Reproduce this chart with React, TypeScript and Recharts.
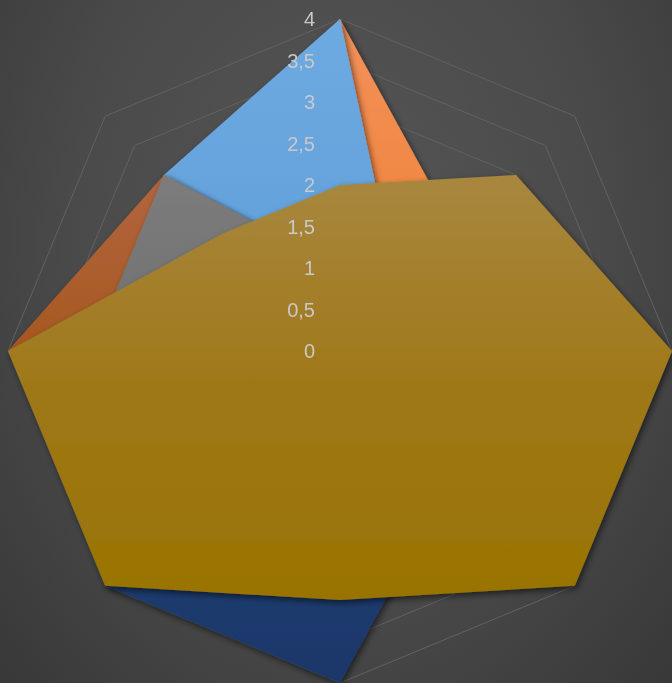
import React from 'react';
import { RadarChart, Radar, PolarGrid, PolarAngleAxis, PolarRadiusAxis } from 'recharts';

// Eight unlabeled spokes, clockwise from the top
const categories = ['K1', 'K2', 'K3', 'K4', 'K5', 'K6', 'K7', 'K8'];

// Series values, one per spoke
const serie1 = [4, 1, 1, 1, 1, 1, 2, 3];
const serie2 = [4, 2, 2, 1, 1, 1, 1, 2];
const serie7 = [1, 1, 1, 2, 4, 4, 2, 1];
const serie8 = [1, 1, 1, 1, 1, 2, 4, 3];
const serie9 = [1, 1.5, 2, 2, 1.5, 2, 3, 3];
const serie10 = [2, 3, 4, 4, 3, 4, 4, 2];

const radiusTicks = [0, 0.5, 1, 1.5, 2, 2.5, 3, 3.5, 4];

const data = categories.map((c, i) => ({
  cat: c,
  s1: serie1[i],
  s2: serie2[i],
  s7: serie7[i],
  s8: serie8[i],
  s9: serie9[i],
  s10: serie10[i],
}));

const fmt = (v: number) => String(v).replace('.', ',');

const RadiusTick = (props: any) => {
  const { x, y, payload } = props;
  return (
    <text
      x={x - 25}
      y={y + 7}
      textAnchor="end"
      fill="#C9C9C9"
      fontSize={20}
      fontFamily="'Liberation Sans', Arial, sans-serif"
    >
      {fmt(payload.value)}
    </text>
  );
};

const grad = (id: string, top: string, mid: string, bottom: string) => (
  <linearGradient id={id} x1="0" y1="0" x2="0" y2="1">
    <stop offset="0%" stopColor={top} />
    <stop offset="50%" stopColor={mid} />
    <stop offset="100%" stopColor={bottom} />
  </linearGradient>
);

export default function App() {
  return (
    <div
      style={{
        position: 'fixed',
        left: 0,
        top: 0,
        width: 672,
        height: 683,
        overflow: 'hidden',
        background: 'radial-gradient(ellipse at 50% 35%, #565656 0%, #4a4a4a 55%, #383838 100%)',
      }}
    >
      <RadarChart
        width={672}
        height={683}
        cx={340}
        cy={351}
        outerRadius={332}
        data={data}
        margin={{ top: 0, right: 0, bottom: 0, left: 0 }}
      >
        <defs>
          {grad('g1', '#6EAAE2', '#64A2DB', '#5B9BD5')}
          {grad('g2', '#F3905A', '#F0863F', '#ED7D31')}
          {grad('g7', '#24427A', '#203D72', '#1D386A')}
          {grad('g8', '#B3653F', '#A85A25', '#A0500F')}
          {grad('g9', '#7C7C7C', '#727272', '#6A6A6A')}
          {grad('g10', '#A8873F', '#9F7818', '#997300')}
          <filter id="shade" x="-10%" y="-10%" width="130%" height="130%">
            <feDropShadow dx="2" dy="3" stdDeviation="3" floodColor="#000" floodOpacity="0.55" />
          </filter>
        </defs>
        <PolarGrid gridType="polygon" radialLines={false} stroke="#626262" strokeWidth={1} />
        <PolarAngleAxis dataKey="cat" tick={false} axisLine={false} tickLine={false} />
        <Radar name="Reihe 2" dataKey="s2" fill="url(#g2)" fillOpacity={1} stroke="none" filter="url(#shade)" isAnimationActive={false} />
        <Radar name="Reihe 1" dataKey="s1" fill="url(#g1)" fillOpacity={1} stroke="none" filter="url(#shade)" isAnimationActive={false} />
        <Radar name="Reihe 7" dataKey="s7" fill="url(#g7)" fillOpacity={1} stroke="none" filter="url(#shade)" isAnimationActive={false} />
        <Radar name="Reihe 8" dataKey="s8" fill="url(#g8)" fillOpacity={1} stroke="none" filter="url(#shade)" isAnimationActive={false} />
        <Radar name="Reihe 9" dataKey="s9" fill="url(#g9)" fillOpacity={1} stroke="none" filter="url(#shade)" isAnimationActive={false} />
        <Radar name="Reihe 10" dataKey="s10" fill="url(#g10)" fillOpacity={1} stroke="none" filter="url(#shade)" isAnimationActive={false} />
        <PolarRadiusAxis
          angle={90}
          domain={[0, 4]}
          ticks={radiusTicks}
          tickCount={9}
          axisLine={false}
          tickLine={false}
          tick={<RadiusTick />}
        />
      </RadarChart>
    </div>
  );
}
